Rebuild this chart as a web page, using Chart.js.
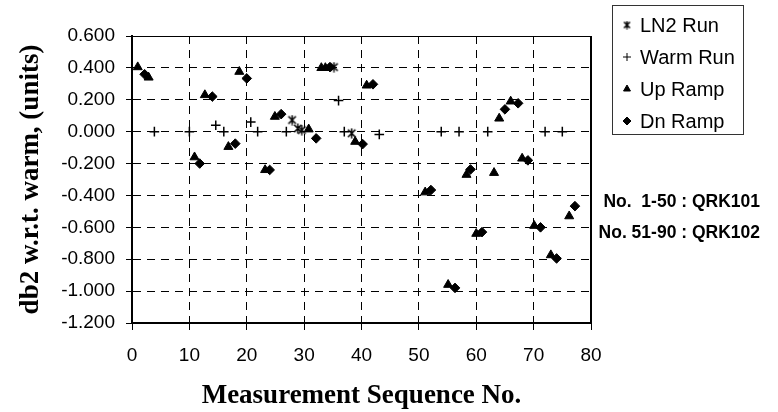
<!DOCTYPE html>
<html>
<head>
<meta charset="utf-8">
<script src="https://cdn.jsdelivr.net/npm/chart.js@4.4.1/dist/chart.umd.min.js"></script>
<style>
  html, body { margin: 0; padding: 0; background: #fff; }
  #wrap { width: 778px; height: 412px; position: relative; }
</style>
</head>
<body>
<div id="wrap"><canvas id="c"></canvas></div>
<script>
// sequence no. / db2 offset
const ln2Seq = [27.9, 28.9, 29.6, 35.2, 38.3];
const ln2Val = [0.073, 0.02, 0.01, 0.405, -0.01];
const warmSeq = [3.9, 10, 14.6, 16, 20.7, 21.9, 26.9, 36, 37, 43.1, 53.9, 57, 62, 72, 75];
const warmVal = [0, 0, 0.04, 0, 0.06, 0, 0, 0.195, 0, -0.017, 0, 0, 0, 0, 0];
const upSeq = [1, 2.9, 10.9, 12.7, 16.8, 18.7, 23.2, 24.9, 30.8, 33, 33.7, 38.9, 40.9, 51.1, 55.1, 58.3, 60, 63.1, 64, 66, 68, 70.1, 73, 76.2];
const upVal = [0.405, 0.34, -0.16, 0.23, -0.095, 0.376, -0.24, 0.094, 0.015, 0.4, 0.4, -0.063, 0.29, -0.38, -0.96, -0.27, -0.64, -0.258, 0.083, 0.19, -0.168, -0.59, -0.774, -0.53];
const dnSeq = [2.2, 11.8, 14, 18, 20, 24, 26, 32.1, 34.5, 40.2, 42, 52.1, 56.3, 59, 61, 65, 67.3, 69, 71.2, 74, 77.2];
const dnVal = [0.36, -0.2, 0.22, -0.075, 0.334, -0.24, 0.11, -0.042, 0.405, -0.078, 0.297, -0.366, -0.98, -0.237, -0.63, 0.14, 0.178, -0.18, -0.6, -0.795, -0.467];

const xTickValues = [0, 10, 20, 30, 40, 50, 60, 70, 80];
const yTickValues = [-1.2, -1.0, -0.8, -0.6, -0.4, -0.2, 0, 0.2, 0.4, 0.6];
const notes = ["No.  1-50 : QRK101", "No. 51-90 : QRK102"];

const SANS = "'Liberation Sans', Arial, sans-serif";
const SERIF = "'Liberation Serif', 'Times New Roman', serif";

// excel-style star marker: an X with a vertical bar
function starMarker(size) {
  const c = document.createElement("canvas");
  c.width = c.height = size;
  const g = c.getContext("2d");
  const m = size / 2, r = size / 2 - 0.5, d = r * 0.75;
  g.strokeStyle = "#000"; g.lineWidth = 1.5;
  g.beginPath();
  g.moveTo(m - d, m - d); g.lineTo(m + d, m + d);
  g.moveTo(m + d, m - d); g.lineTo(m - d, m + d);
  g.moveTo(m, m - r); g.lineTo(m, m + r);
  g.stroke();
  return c;
}
const star = starMarker(11), starSmall = starMarker(9);

const pts = (xs, ys) => xs.map((x, i) => ({ x, y: ys[i] }));
const series = [
  { label: "LN2 Run", data: pts(ln2Seq, ln2Val), pointStyle: star, legendStyle: starSmall, radius: 5, bw: 1 },
  { label: "Warm Run", data: pts(warmSeq, warmVal), pointStyle: "cross", radius: 4.8, bw: 1.5 },
  { label: "Up Ramp", data: pts(upSeq, upVal), pointStyle: "triangle", radius: 5.2, bw: 1 },
  { label: "Dn Ramp", data: pts(dnSeq, dnVal), pointStyle: "rectRot", radius: 4.8, bw: 1 },
];

// boxed legend top right + the two sensor notes, plus the top/right frame
const extras = {
  id: "extras",
  afterDraw(chart) {
    const ctx = chart.ctx, a = chart.chartArea;
    ctx.save();
    ctx.strokeStyle = "#000";
    ctx.lineWidth = 1;
    ctx.beginPath(); ctx.moveTo(a.left, a.top + 0.5); ctx.lineTo(a.right, a.top + 0.5); ctx.stroke();
    ctx.lineWidth = 2;
    ctx.beginPath(); ctx.moveTo(a.right, a.top); ctx.lineTo(a.right, a.bottom + 1); ctx.stroke();

    ctx.lineWidth = 1;
    ctx.strokeStyle = "#333";
    ctx.strokeRect(612.5, 5.5, 131, 129);
    ctx.font = "20px " + SANS;
    ctx.textBaseline = "middle";
    ctx.textAlign = "left";
    series.forEach((s, i) => {
      const y = 25 + i * 32;
      ctx.fillStyle = "#000"; ctx.strokeStyle = "#000";
      Chart.helpers.drawPoint(ctx, { pointStyle: s.legendStyle || s.pointStyle, radius: 4, rotation: 0, borderWidth: s.bw }, 627, y);
      ctx.fillText(s.label, 640, y + 1);
    });

    ctx.font = "bold 17.5px " + SANS;
    ctx.textAlign = "right";
    notes.forEach((t, i) => ctx.fillText(t, 760, 202 + i * 31.5));
    ctx.restore();
  },
};

new Chart(document.getElementById("c"), {
  type: "scatter",
  data: {
    datasets: series.map((s) => ({
      label: s.label, data: s.data, pointStyle: s.pointStyle,
      pointRadius: s.radius, pointHoverRadius: s.radius,
      backgroundColor: "#000", borderColor: "#000", borderWidth: s.bw, showLine: false,
    })),
  },
  options: {
    responsive: true, maintainAspectRatio: false, animation: false,
    layout: { padding: { left: 0, right: 187, top: 36, bottom: 0 } },
    plugins: { legend: { display: false }, tooltip: { enabled: false } },
    scales: {
      x: {
        type: "linear", min: 0, max: 80,
        afterFit: (s) => { s.height = 89; },
        afterBuildTicks: (s) => { s.ticks = xTickValues.map((v) => ({ value: v })); },
        ticks: { color: "#000", font: { family: SANS, size: 19 }, padding: 14, maxRotation: 0 },
        grid: { color: "#000", lineWidth: 1, tickLength: 7, tickColor: "#000" },
        border: { color: "#000", width: 2, dash: [8, 6] },
        title: { display: true, text: "Measurement Sequence No.", color: "#000", font: { family: SERIF, size: 27, weight: "bold" }, padding: { top: 0, bottom: 0 } },
      },
      y: {
        type: "linear", min: -1.2, max: 0.6,
        afterFit: (s) => { s.width = 132; },
        afterBuildTicks: (s) => { s.ticks = yTickValues.map((v) => ({ value: v })); },
        ticks: { color: "#000", font: { family: SANS, size: 19 }, padding: 11, callback: (v) => v.toFixed(3) },
        grid: { color: "#000", lineWidth: 1, tickLength: 6, tickColor: "#000" },
        border: { color: "#000", width: 2, dash: [8, 6] },
        title: { display: true, text: "db2 w.r.t. warm, (units)", color: "#000", font: { family: SERIF, size: 27, weight: "bold" }, padding: { top: 15, bottom: 0 } },
      },
    },
  },
  plugins: [extras],
});
</script>
</body>
</html>
